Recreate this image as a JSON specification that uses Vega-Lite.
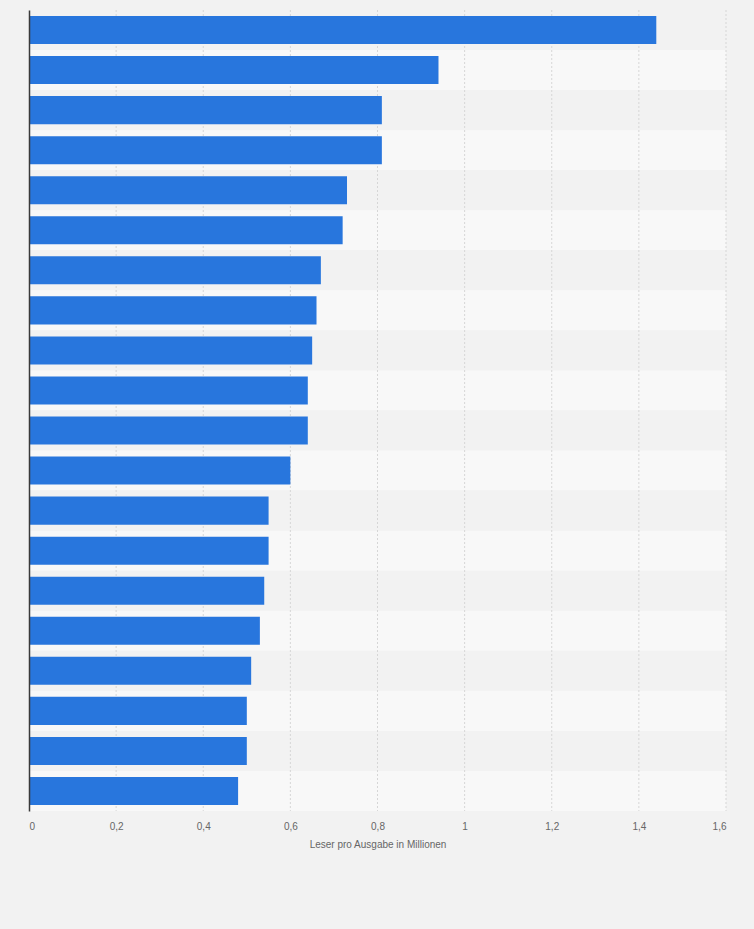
{
  "$schema": "https://vega.github.io/schema/vega-lite/v6.json",
  "width": 697,
  "height": 801,
  "autosize": {"type": "none"},
  "padding": {"left": 29, "top": 10, "right": 28, "bottom": 118},
  "background": "#f2f2f2",
  "config": {
    "view": {"stroke": null},
    "font": "Liberation Sans",
    "locale": {"number": {"decimal": ",", "thousands": ".", "grouping": [3], "currency": ["", " €"]}}
  },
  "datasets": {
    "titel": [
      {"titel": "Titel 1", "leser": 1.44},
      {"titel": "Titel 2", "leser": 0.94},
      {"titel": "Titel 3", "leser": 0.81},
      {"titel": "Titel 4", "leser": 0.81},
      {"titel": "Titel 5", "leser": 0.73},
      {"titel": "Titel 6", "leser": 0.72},
      {"titel": "Titel 7", "leser": 0.67},
      {"titel": "Titel 8", "leser": 0.66},
      {"titel": "Titel 9", "leser": 0.65},
      {"titel": "Titel 10", "leser": 0.64},
      {"titel": "Titel 11", "leser": 0.64},
      {"titel": "Titel 12", "leser": 0.6},
      {"titel": "Titel 13", "leser": 0.55},
      {"titel": "Titel 14", "leser": 0.55},
      {"titel": "Titel 15", "leser": 0.54},
      {"titel": "Titel 16", "leser": 0.53},
      {"titel": "Titel 17", "leser": 0.51},
      {"titel": "Titel 18", "leser": 0.5},
      {"titel": "Titel 19", "leser": 0.5},
      {"titel": "Titel 20", "leser": 0.48}
    ],
    "gitter": [
      {"wert": 0.2}, {"wert": 0.4}, {"wert": 0.6}, {"wert": 0.8},
      {"wert": 1.0}, {"wert": 1.2}, {"wert": 1.4}, {"wert": 1.6}
    ]
  },
  "layer": [
    {
      "data": {"name": "titel"},
      "transform": [
        {"window": [{"op": "row_number", "as": "rang"}]}
      ],
      "mark": {"type": "rect"},
      "encoding": {
        "y": {"field": "titel", "type": "nominal", "sort": null},
        "x": {"datum": 0, "type": "quantitative"},
        "x2": {"datum": 1.6},
        "color": {
          "condition": {"test": "datum.rang % 2 == 0", "value": "#f8f8f8"},
          "value": "#f2f2f2"
        }
      }
    },
    {
      "data": {"name": "gitter"},
      "mark": {"type": "rule", "color": "#d6d6d6", "strokeDash": [2, 2], "strokeWidth": 1},
      "encoding": {
        "x": {"field": "wert", "type": "quantitative"}
      }
    },
    {
      "data": {"name": "titel"},
      "mark": {"type": "bar", "color": "#2876dd", "height": {"band": 0.7}},
      "encoding": {
        "y": {
          "field": "titel", "type": "nominal", "sort": null,
          "scale": {"paddingInner": 0, "paddingOuter": 0},
          "axis": {"labels": false, "ticks": false, "title": null, "grid": false, "domainColor": "#3a3a3a", "domainWidth": 1.5}
        },
        "x": {
          "field": "leser", "type": "quantitative",
          "scale": {"domain": [0, 1.6], "nice": false},
          "axis": {
            "values": [0, 0.2, 0.4, 0.6, 0.8, 1, 1.2, 1.4, 1.6],
            "format": ".1~f",
            "grid": false, "domain": false, "ticks": false,
            "labelFlush": true, "labelColor": "#666666", "labelFontSize": 10, "labelPadding": 10,
            "title": "Leser pro Ausgabe in Millionen",
            "titleColor": "#666666", "titleFontSize": 10, "titleFontWeight": "normal", "titlePadding": 8
          }
        }
      }
    }
  ]
}
